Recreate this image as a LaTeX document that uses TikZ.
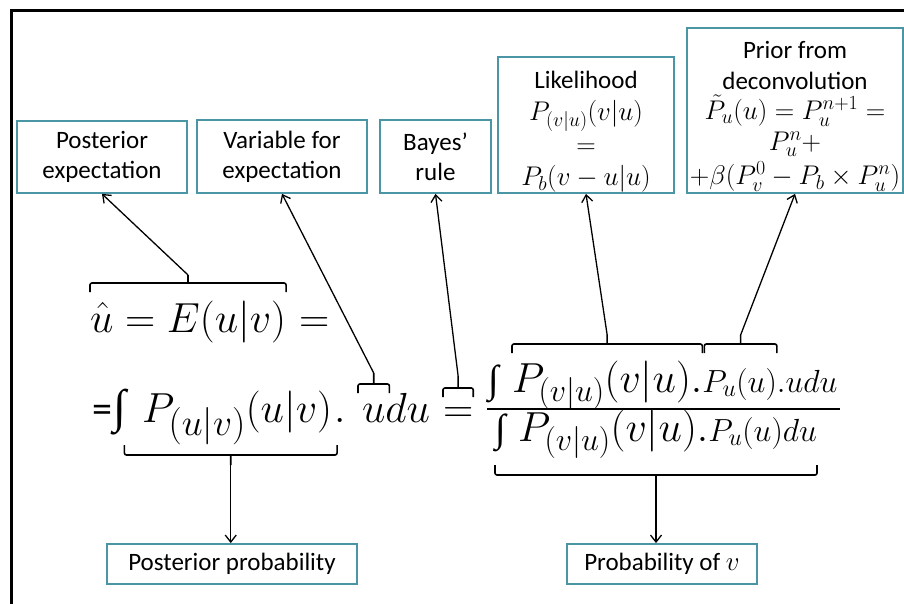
\RequirePackage{fix-cm}
\documentclass[tikz,border=0pt]{standalone}
\usepackage{amsmath}
\usepackage{graphicx}
\usepackage[no-math]{fontspec}
\setmainfont{Carlito}
\newfontfamily\symfont{Liberation Serif}
\usetikzlibrary{arrows.meta,calc}
\DeclareMathSizes{25}{25}{18}{14}
\DeclareMathSizes{27}{27}{20}{15}
\DeclareMathSizes{42}{42}{32}{24}
\DeclareMathSizes{32}{32}{24}{18}
\definecolor{boxteal}{RGB}{75,150,165}
\newcommand\bxm[1]{{\fontsize{27}{30}\selectfont$\smash{#1}$}}
\newcommand\bxn[1]{{\fontsize{27}{30}\selectfont$#1$}}
\newcommand\intsign[1]{\resizebox*{!}{#1}{\symfont\fontsize{40}{40}\selectfont ∫}}
\newcommand\bigsub[1]{\scalebox{1.17}{$\scriptstyle #1$}}
% top brace: #1 left anchor, #2 right anchor, #3 y, #4 tip name, #5 tip length
\newcommand\brtop[5]{%
  \draw[brk] let \p1=(#1), \p2=(#2) in (\x1,#3-9pt) -- (\x1,#3) -- (\x2,#3) -- (\x2,#3-9pt)
    ({(\x1+\x2)/2},#3) -- ({(\x1+\x2)/2},#3+#5) coordinate (#4);}
\newcommand\brbot[5]{%
  \draw[brk] let \p1=(#1), \p2=(#2) in (\x1,#3+10pt) -- (\x1,#3) -- (\x2,#3) -- (\x2,#3+10pt)
    ({(\x1+\x2)/2},#3) -- ({(\x1+\x2)/2},#3-#5) coordinate (#4);}
\begin{document}
\begin{tikzpicture}[x=1pt,y=1pt,
  lbl/.style={draw=boxteal,line width=1.8pt,align=center,inner sep=0pt,font=\fontsize{25}{30}\selectfont},
  mth/.style={inner sep=0pt,outer sep=0pt,anchor=base west,font=\fontsize{42}{50}\selectfont},
  sml/.style={mth,font=\fontsize{32}{38}\selectfont},
  brk/.style={line width=1.6pt,rounded corners=2pt},
  arr/.style={line width=1.3pt,-{Straight Barb[length=7pt,width=11pt]}},
]
\useasboundingbox (0,0) rectangle (904,-604);
\fill[white] (0,0) rectangle (904,-604);
\draw[line width=3pt] (11,-612) -- (11,-11) -- (912,-11);

% label boxes
\node[lbl,minimum width=170pt,minimum height=72pt] (pe) at (102,-157) {Posterior\\expectation};
\node[lbl,minimum width=170pt,minimum height=73pt] (ve) at (282,-156.5) {Variable for\\expectation};
\node[lbl,minimum width=111pt,minimum height=73pt] (br) at (435.5,-156.5) {Bayes’\\rule};
\node[lbl,minimum width=176pt,minimum height=136pt,font=\fontsize{25}{32.5}\selectfont] (lk) at (586,-125)
  {\rule{0pt}{31pt}Likelihood\\\bxm{P_{(v|u)}(v|u)}\\\bxm{=}\\\bxn{P_b(v-u|u)}};
\node[lbl,minimum width=216pt,minimum height=165pt,font=\fontsize{25}{30.5}\selectfont] (pr) at (795,-110.5)
  {\rule{0pt}{29pt}Prior from\\deconvolution\\\bxm{\tilde P_u(u)=P_u^{n+1}=}\\\bxm{P_u^n+}\\[4pt]\bxn{+\beta(P_v^0-P_b\times P_u^n)}};
\node[lbl,minimum width=250pt,minimum height=40pt] (pp) at (232,-564) {Posterior probability};
\node[lbl,minimum width=190pt,minimum height=40pt] (pv) at (662,-564) {Probability of \bxn{v}};

% line 1
\node[mth] (l1) at (90,-332) {$\hat u = E(u|v)$};
\node[mth] (l1eq) at ([xshift=13pt]l1.base east) {$=$};

% line 2
\node[mth,font=\fontsize{40}{48}\selectfont] (l2eq) at (92,-422) {=};
\node[mth] (l2int) at (113,-422) {\intsign{46pt}};
\node[mth] (l2P) at (142,-422) {$P_{\bigsub{(u|v)}}(u|v)$};
\node[mth] (l2dot) at ([xshift=2pt]l2P.base east) {$.$};
\node[mth] (l2u) at (362,-422) {$u$};
\node[mth] (l2du) at (l2u.base east) {$du$};
\node[mth] (l2eqb) at (443,-422) {$=$};

% fraction
\node[mth] (nint) at (488,-392) {\intsign{38pt}};
\node[mth] (nP) at (512,-392) {$P_{(v|u)}(v|u)$};
\node[mth] (ndot) at (nP.base east) {$.$};
\node[sml] (nPu) at (ndot.base east) {$P_u(u)$};
\node[sml] (nudu) at (nPu.base east) {$.udu$};
\coordinate (barL) at (487,-409);
\coordinate (barR) at (840,-409);
\draw[line width=1.8pt] (barL) -- (barR);
\node[mth] (dint) at (495,-441) {\intsign{38pt}};
\node[mth] (dP) at (518,-441) {$P_{(v|u)}(v|u)$};
\node[mth] (ddot) at (dP.base east) {$.$};
\node[sml] (dPu) at (ddot.base east) {$P_u(u)du$};

% braces
\brtop{l1.west}{l1.east}{-283pt}{t1}{8pt}
\brtop{[xshift=-4pt]l2u.west}{[xshift=4pt]l2u.east}{-384pt}{tu}{11pt}
\brtop{l2eqb.west}{l2eqb.east}{-388pt}{teq}{12pt}
\brtop{nP.west}{ndot.east}{-344pt}{tn1}{9pt}
\brtop{[xshift=2pt]nPu.west}{nPu.east}{-344pt}{tn2}{9pt}
\brbot{[xshift=5pt]l2int.center}{[xshift=5pt]l2P.east}{-455pt}{tb1}{10pt}
\brbot{dint.west}{dPu.east}{-475pt}{tb2}{10pt}

% connectors
\draw[arr] (t1) -- (pe.south);
\draw[arr] (tu) -- (ve.south);
\draw[arr] (teq) -- (br.south);
\draw[arr] (tn1) -- (lk.south);
\draw[arr] (tn2) -- (pr.south);
\draw[arr] (tb1) -- (tb1 |- pp.north);
\draw[arr] (tb2) -- (tb2 |- pv.north);
\end{tikzpicture}
\end{document}
